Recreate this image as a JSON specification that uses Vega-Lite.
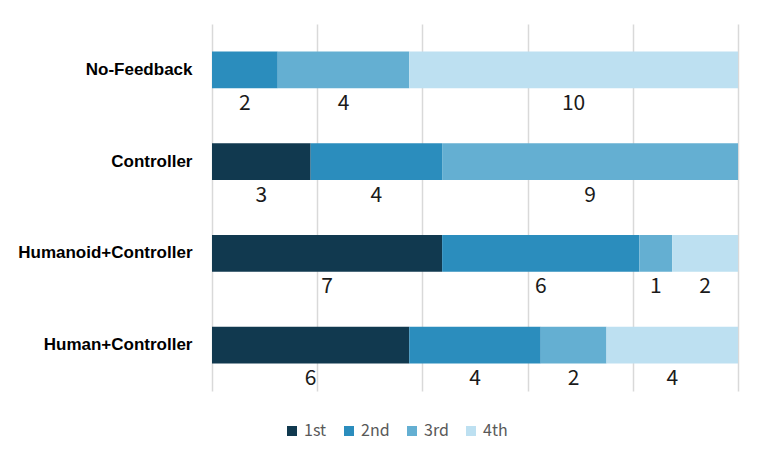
{
  "$schema": "https://vega.github.io/schema/vega-lite/v6.json",
  "width": 526,
  "height": 367,
  "autosize": {"type": "none"},
  "padding": {"left": 212, "top": 24, "right": 24, "bottom": 73},
  "background": "white",
  "config": {"view": {"stroke": null}, "font": "Liberation Sans"},
  "data": {
    "values": [
      {"group": "No-Feedback", "rank": "2nd", "count": 2},
      {"group": "No-Feedback", "rank": "3rd", "count": 4},
      {"group": "No-Feedback", "rank": "4th", "count": 10},
      {"group": "Controller", "rank": "1st", "count": 3},
      {"group": "Controller", "rank": "2nd", "count": 4},
      {"group": "Controller", "rank": "3rd", "count": 9},
      {"group": "Humanoid+Controller", "rank": "1st", "count": 7},
      {"group": "Humanoid+Controller", "rank": "2nd", "count": 6},
      {"group": "Humanoid+Controller", "rank": "3rd", "count": 1},
      {"group": "Humanoid+Controller", "rank": "4th", "count": 2},
      {"group": "Human+Controller", "rank": "1st", "count": 6},
      {"group": "Human+Controller", "rank": "2nd", "count": 4},
      {"group": "Human+Controller", "rank": "3rd", "count": 2},
      {"group": "Human+Controller", "rank": "4th", "count": 4}
    ]
  },
  "transform": [
    {"stack": "count", "groupby": ["group"], "sort": [{"field": "rank", "order": "ascending"}], "offset": "normalize", "as": ["x0", "x1"]},
    {"calculate": "(datum.x0 + datum.x1) / 2", "as": "xm"}
  ],
  "encoding": {
    "y": {
      "field": "group",
      "type": "nominal",
      "sort": ["No-Feedback", "Controller", "Humanoid+Controller", "Human+Controller"],
      "scale": {"paddingInner": 0.6, "paddingOuter": 0.3},
      "axis": {"title": null, "domain": false, "ticks": false, "labelFontSize": 17, "labelFontWeight": "bold", "labelColor": "#000000", "labelPadding": 20, "labelFont": "Liberation Sans"}
    }
  },
  "layer": [
    {
      "mark": {"type": "bar"},
      "encoding": {
        "x": {
          "field": "x0",
          "type": "quantitative",
          "scale": {"domain": [0, 1], "nice": false},
          "axis": {"values": [0, 0.2, 0.4, 0.6, 0.8, 1], "labels": false, "ticks": false, "domain": false, "title": null, "grid": true, "gridColor": "#d9d9d9", "gridWidth": 1.5}
        },
        "x2": {"field": "x1"},
        "color": {
          "field": "rank",
          "type": "nominal",
          "scale": {"domain": ["1st", "2nd", "3rd", "4th"], "range": ["#11394f", "#2b8dbd", "#64afd2", "#bde0f1"]},
          "legend": {
            "title": null,
            "orient": "none",
            "direction": "horizontal",
            "legendX": 72,
            "legendY": 399,
            "symbolType": "square",
            "symbolSize": 100,
            "symbolStrokeWidth": 0,
            "labelFontSize": 16,
            "labelColor": "#595959",
            "labelFont": "Noto Sans CJK JP",
            "labelOffset": 4,
            "columnPadding": 14
          }
        }
      }
    },
    {
      "mark": {"type": "text", "dy": 34, "fontSize": 21, "font": "Noto Sans CJK JP", "color": "#1a1a1a", "baseline": "middle"},
      "encoding": {
        "x": {"field": "xm", "type": "quantitative"},
        "text": {"field": "count", "type": "quantitative"}
      }
    }
  ]
}
